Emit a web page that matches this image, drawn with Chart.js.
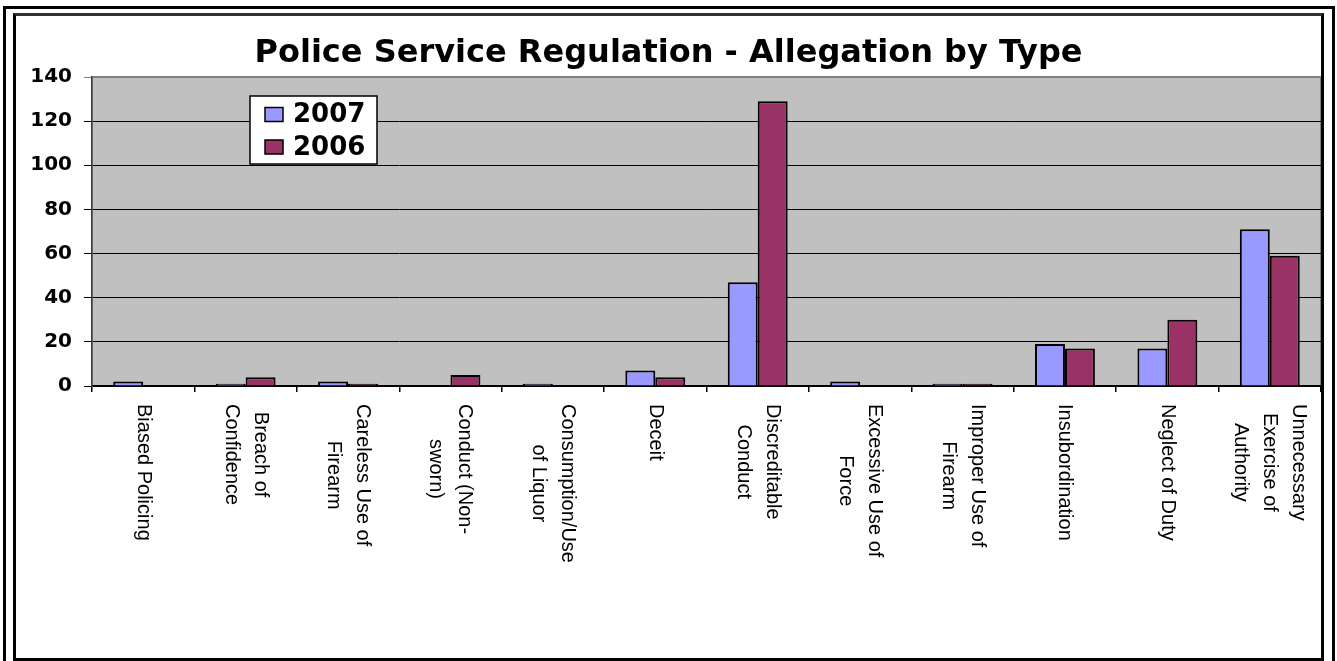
<!DOCTYPE html>
<html>
<head>
<meta charset="utf-8">
<title>Police Service Regulation - Allegation by Type</title>
<script src="https://cdn.jsdelivr.net/npm/chart.js@4.4.1/dist/chart.umd.min.js"></script>
<style>
    body { margin: 0; background: #fff; }
    #outer { position: absolute; left: 3px; top: 6px; width: 1332px; height: 700px; border: 3px solid #000; box-sizing: border-box; }
    #inner { position: absolute; left: 13px; top: 13px; width: 1311px; height: 648px; border: 3px solid #000; border-top-color: #333; box-sizing: border-box; background: #fff; }
</style>
</head>
<body>
<div id="outer"></div>
<div id="inner">
    <canvas id="allegationChart" width="1305" height="642"></canvas>
</div>
<script>
const categories = [
    'Biased Policing',
    ['Breach of', 'Confidence'],
    ['Careless Use of', 'Firearm'],
    ['Conduct (Non-', 'sworn)'],
    ['Consumption/Use', 'of Liquor'],
    'Deceit',
    ['Discreditable', 'Conduct'],
    ['Excessive Use of', 'Force'],
    ['Improper Use of', 'Firearm'],
    'Insubordination',
    'Neglect of Duty',
    ['Unnecessary', 'Exercise of', 'Authority']
];
const values2007 = [2, 1, 2, 0, 1, 7, 47, 2, 1, 19, 17, 71];
const values2006 = [0, 4, 1, 5, 0, 4, 129, 0, 1, 17, 30, 59];
const yTicks = [0, 20, 40, 60, 80, 100, 120, 140];

// grey plot area like the old excel chart
const plotBackground = {
    id: 'plotBackground',
    beforeDraw(chart) {
        const { ctx, chartArea } = chart;
        ctx.save();
        ctx.fillStyle = '#C0C0C0';
        ctx.fillRect(chartArea.left, chartArea.top, chartArea.right - chartArea.left, chartArea.bottom - chartArea.top);
        ctx.strokeStyle = '#808080';
        ctx.lineWidth = 2;
        ctx.strokeRect(chartArea.left, chartArea.top, chartArea.right - chartArea.left, chartArea.bottom - chartArea.top);
        ctx.restore();
    }
};

// category labels turned clockwise, first line on the right
const sideLabels = {
    id: 'sideLabels',
    afterDraw(chart) {
        const { ctx, chartArea } = chart;
        const xScale = chart.scales.x;
        const lineGap = 29;
        ctx.save();
        ctx.font = '20px "Liberation Sans", Arial, sans-serif';
        ctx.fillStyle = '#000';
        ctx.textAlign = 'left';
        ctx.textBaseline = 'middle';
        chart.data.labels.forEach((label, i) => {
            const lines = Array.isArray(label) ? label : [label];
            const widths = lines.map(l => ctx.measureText(l).width);
            const maxW = Math.max(...widths);
            ctx.save();
            ctx.translate(xScale.getPixelForValue(i), chartArea.bottom + 18);
            ctx.rotate(Math.PI / 2);
            lines.forEach((line, j) => {
                const off = (j - (lines.length - 1) / 2) * lineGap;
                ctx.fillText(line, (maxW - widths[j]) / 2, off);
            });
            ctx.restore();
        });
        ctx.restore();
    }
};

// boxed legend sitting inside the plot
const boxLegend = {
    id: 'boxLegend',
    afterDraw(chart) {
        const { ctx, chartArea } = chart;
        const bx = chartArea.left + 158;
        const by = chartArea.top + 19;
        ctx.save();
        ctx.fillStyle = '#fff';
        ctx.fillRect(bx, by, 127, 68);
        ctx.strokeStyle = '#000';
        ctx.lineWidth = 1.5;
        ctx.strokeRect(bx, by, 127, 68);
        ctx.font = 'bold 26px "DejaVu Sans", Verdana, sans-serif';
        ctx.textBaseline = 'middle';
        ctx.textAlign = 'left';
        chart.data.datasets.forEach((ds, i) => {
            const cy = by + 18.5 + i * 32.5;
            ctx.fillStyle = ds.backgroundColor;
            ctx.fillRect(bx + 15, cy - 7, 18, 14);
            ctx.strokeStyle = '#000';
            ctx.lineWidth = 1.5;
            ctx.strokeRect(bx + 15, cy - 7, 18, 14);
            ctx.fillStyle = '#000';
            ctx.fillText(ds.label, bx + 43, cy + 1);
        });
        ctx.restore();
    }
};

const ctx = document.getElementById('allegationChart').getContext('2d');
const chart = new Chart(ctx, {
    type: 'bar',
    data: {
        labels: categories,
        datasets: [
            {
                label: '2007',
                data: values2007,
                backgroundColor: '#9999FF',
                borderColor: '#000',
                borderWidth: 2,
                borderSkipped: 'start',
                categoryPercentage: 0.585,
                barPercentage: 1.0
            },
            {
                label: '2006',
                data: values2006,
                backgroundColor: '#993366',
                borderColor: '#000',
                borderWidth: 2,
                borderSkipped: 'start',
                categoryPercentage: 0.585,
                barPercentage: 1.0
            }
        ]
    },
    options: {
        responsive: false,
        animation: false,
        devicePixelRatio: 1,
        layout: { padding: 0 },
        plugins: {
            legend: { display: false },
            tooltip: { enabled: false },
            title: {
                display: true,
                text: 'Police Service Regulation - Allegation by Type',
                color: '#000',
                font: { family: '"DejaVu Sans", Verdana, sans-serif', size: 32, weight: 'bold', lineHeight: 1.2 },
                padding: { top: 18.5, bottom: 4.1 }
            }
        },
        scales: {
            x: {
                offset: true,
                grid: { offset: true, drawOnChartArea: false, drawTicks: true, tickLength: 6, color: '#000', lineWidth: 1.5 },
                border: { color: '#000', width: 1.5 },
                ticks: { display: false },
                afterFit(scale) { scale.height = 272; }
            },
            y: {
                min: 0,
                max: 140,
                afterBuildTicks(scale) { scale.ticks = yTicks.map(v => ({ value: v })); },
                grid: {
                    color: (c) => c.tick && c.tick.value === 140 ? '#808080' : '#000',
                    lineWidth: 1,
                    tickLength: 8
                },
                border: { color: '#404040', width: 1.5 },
                ticks: {
                    color: '#000',
                    padding: 12,
                    font: { family: '"DejaVu Sans", Verdana, sans-serif', size: 20, weight: 'bold' }
                },
                afterFit(scale) { scale.width = 76; }
            }
        }
    },
    plugins: [plotBackground, sideLabels, boxLegend]
});
</script>
</body>
</html>
